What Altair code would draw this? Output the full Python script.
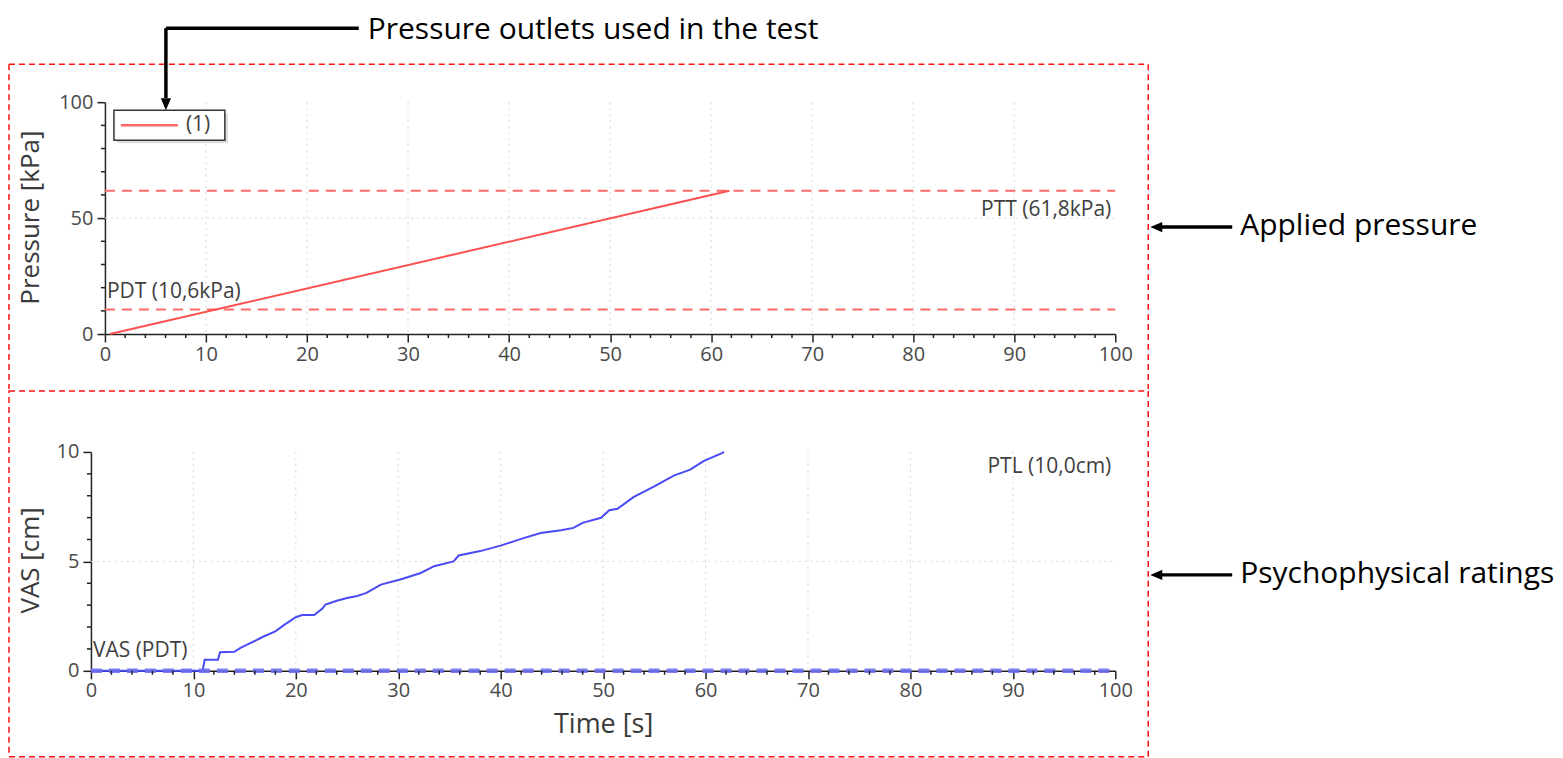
import altair as alt
import pandas as pd

# ---------------- data ----------------
press_t = [0.5, 61.8]
press_v = [0.0, 61.8]
series_names = ["(1)"]
pdt_kpa = 10.6
ptt_kpa = 61.8
pdt_label = "PDT (10,6kPa)"
ptt_label = "PTT (61,8kPa)"

vas_t = [0, 10.9, 11.1, 12.4, 12.6, 14.0, 14.6, 15.5, 16.9, 18.0, 18.9, 20.0, 20.6,
         21.8, 22.6, 22.9, 24.0, 25.0, 26.0, 26.9, 28.3, 30.2, 32.2, 33.5, 35.4, 35.9,
         38.0, 40.0, 42.0, 43.9, 45.9, 47.1, 48.0, 49.8, 50.6, 51.4, 53.0, 55.0, 56.9,
         58.5, 59.8, 61.6, 61.8]
vas_v = [0, 0, 0.5, 0.5, 0.85, 0.87, 1.05, 1.25, 1.58, 1.8, 2.11, 2.45, 2.55,
         2.55, 2.85, 3.03, 3.2, 3.33, 3.42, 3.56, 3.94, 4.17, 4.47, 4.78, 5.0, 5.27,
         5.47, 5.72, 6.03, 6.30, 6.42, 6.53, 6.76, 6.99, 7.34, 7.40, 7.95, 8.43, 8.92,
         9.19, 9.58, 9.95, 10.0]
vas_pdt = 0.0
ptl_cm = 10.0
vas_pdt_label = "VAS (PDT)"
ptl_label = "PTL (10,0cm)"

x_major = [0, 10, 20, 30, 40, 50, 60, 70, 80, 90, 100]
x_minor = [v for v in range(2, 100, 2) if v % 10 != 0]
x_grid = [10, 20, 30, 40, 50, 60, 70, 80, 90]
top_y_major = [0, 50, 100]
top_y_minor = [10, 20, 30, 40, 60, 70, 80, 90]
top_y_grid = [50]
bot_y_major = [0, 5, 10]
bot_y_minor = [1, 2, 3, 4, 6, 7, 8, 9]
bot_y_grid = [5]

note_outlets = "Pressure outlets used in the test"
note_applied = "Applied pressure"
note_psycho = "Psychophysical ratings"

# ---------------- styles ----------------
RED = "#ff5050"
RED_D = "#ff6a6a"
BLUE = "#4a4af6"
BLUE_D = "#6e6ef2"
BOX = "#ff1010"
TXT = "#404040"
FONT = "Open Sans"
AFONT = "Open Sans"

W = 1025          # both panels share the same group width
OX = 14           # top panel plot starts 14 px right of the bottom one
TH, BH = 232, 219

one = pd.DataFrame({"a": [0]})


def make_axis_x(title=None, **kw):
    args = dict(values=x_major, format="d", labelFontSize=20, labelFont=FONT,
                labelColor="#4a4a4a", tickSize=8, tickWidth=1.5, tickColor="#222",
                domainColor="#222", domainWidth=1.5, grid=False, labelFlush=False,
                labelOverlap=False, labelPadding=2, zindex=0)
    if title:
        args.update(title=title, titleFont=FONT, titleFontSize=27, titleColor="#3a3a3a",
                    titleFontWeight="normal")
    else:
        args.update(title="")
    args.update(kw)
    return alt.Axis(**args)


def make_axis_y(values, title, **kw):
    args = dict(values=values, format="d", labelFontSize=20, labelFont=FONT,
                labelColor="#4a4a4a", tickSize=8, tickWidth=1.5, tickColor="#222",
                domainColor="#222", domainWidth=1.5, grid=False, labelFlush=False,
                labelOverlap=False, labelPadding=4, title=title, titleFont=FONT,
                titleFontSize=26, titleColor="#3a3a3a", titleFontWeight="normal",
                titleBaseline="middle", titleAlign="center", titleAngle=270, zindex=0)
    args.update(kw)
    return alt.Axis(**args)


def hline(x1, x2, y, color="black", width=3.5, dash=None):
    kw = dict(color=color, strokeWidth=width)
    if dash:
        kw["strokeDash"] = dash
    return alt.Chart(one).mark_rule(**kw).encode(
        x=alt.value(x1), x2=alt.value(x2), y=alt.value(y))


def vline(x, y1, y2, color="black", width=3.5, dash=None):
    kw = dict(color=color, strokeWidth=width)
    if dash:
        kw["strokeDash"] = dash
    return alt.Chart(one).mark_rule(**kw).encode(
        x=alt.value(x), y=alt.value(y1), y2=alt.value(y2))


def head(x, y, shape):
    return alt.Chart(one).mark_point(shape=shape, filled=True, fill="black",
                                     opacity=1, size=144, strokeWidth=0).encode(
        x=alt.value(x), y=alt.value(y))


def note(x, y, text):
    return alt.Chart(pd.DataFrame({"t": [text]})).mark_text(
        font=AFONT, fontSize=30, color="black", align="left", baseline="middle"
    ).encode(x=alt.value(x), y=alt.value(y), text="t:N")


ARROW_DOWN = "M-0.85,-1L0.85,-1L0,1Z"
ARROW_LEFT = "M1,-0.85L1,0.85L-1,0Z"

# ---------------- top panel ----------------
xs_top = alt.Scale(domain=[0, 100], range=[OX, W], nice=False)
ys_top = alt.Scale(domain=[0, 100], nice=False)
ax_top_x = make_axis_x()
ax_top_y = make_axis_y(top_y_major, "Pressure [kPa]", titleX=-74, titleY=115, offset=-OX)

X_T = alt.X("t:Q", scale=xs_top, axis=ax_top_x)
Y_T = alt.Y("v:Q", scale=ys_top, axis=ax_top_y)

top_grid_v = alt.Chart(pd.DataFrame({"t": x_grid})).mark_rule(
    color="#d8d8d8", strokeDash=[2, 4], strokeWidth=1).encode(
    x=X_T, y=alt.value(0), y2=alt.value(TH))
top_grid_h = alt.Chart(pd.DataFrame({"v": top_y_grid})).mark_rule(
    color="#d8d8d8", strokeDash=[2, 4], strokeWidth=1).encode(
    y=Y_T, x=alt.value(OX), x2=alt.value(W))

thr = pd.DataFrame({"v": [pdt_kpa, ptt_kpa]})
top_thr = alt.Chart(thr).mark_rule(color=RED_D, strokeDash=[10, 7], strokeWidth=2).encode(
    y=Y_T, x=alt.value(OX), x2=alt.value(W))

press_df = pd.DataFrame({"t": press_t, "v": press_v})
top_line = alt.Chart(press_df).mark_line(color=RED, strokeWidth=2).encode(x=X_T, y=Y_T)

top_pdt_txt = alt.Chart(pd.DataFrame({"v": [pdt_kpa], "l": [pdt_label]})).mark_text(
    font=FONT, fontSize=21, color=TXT, align="left", baseline="middle", dy=-17).encode(
    x=alt.value(OX + 2), y=Y_T, text="l:N")
top_ptt_txt = alt.Chart(pd.DataFrame({"v": [ptt_kpa], "l": [ptt_label]})).mark_text(
    font=FONT, fontSize=21, color=TXT, align="right", baseline="middle", dy=19).encode(
    x=alt.value(W - 4), y=Y_T, text="l:N")

top_xminor = alt.Chart(pd.DataFrame({"t": x_minor})).mark_rule(
    color="#222", strokeWidth=1.5).encode(x=X_T, y=alt.value(TH), y2=alt.value(TH + 4))
top_yminor = alt.Chart(pd.DataFrame({"v": top_y_minor})).mark_rule(
    color="#222", strokeWidth=1.5).encode(y=Y_T, x=alt.value(OX - 4), x2=alt.value(OX))

# legend box (drawn as marks)
leg_shadow = alt.Chart(one).mark_rect(fill="#d0d0d0", opacity=0.7).encode(
    x=alt.value(26), x2=alt.value(137), y=alt.value(11), y2=alt.value(41))
leg_box = alt.Chart(one).mark_rect(fill="white", stroke="#333", strokeWidth=1.5).encode(
    x=alt.value(23), x2=alt.value(134), y=alt.value(8), y2=alt.value(38))
leg_sym = hline(30, 87, 23, color="#ff6666", width=2.5)
leg_txt = alt.Chart(pd.DataFrame({"l": series_names})).mark_text(
    font=FONT, fontSize=21, color=TXT, align="left", baseline="middle").encode(
    x=alt.value(95), y=alt.value(23), text="l:N")

# frame + arrows for top panel
B_L, B_R = -82, 1058
T_T, T_B = -38, 287
top_box = [hline(B_L, B_R, T_T, color=BOX, width=1.5, dash=[6, 4]),
           vline(B_L, T_T, T_B, color=BOX, width=1.5, dash=[6, 4]),
           vline(B_R, T_T, T_B, color=BOX, width=1.5, dash=[6, 4])]
top_anchor = hline(0, 1, -93, color="white", width=1)
top_arrows = [hline(75, 268, -74), vline(75, -74, -4), head(75, 2, ARROW_DOWN),
              note(277, -72, note_outlets),
              hline(1070, 1142, 125), head(1066, 125, ARROW_LEFT),
              note(1150, 124, note_applied)]

top = alt.layer(top_grid_v, top_grid_h, top_thr, top_line, top_pdt_txt, top_ptt_txt,
                top_xminor, top_yminor, leg_shadow, leg_box, leg_sym, leg_txt,
                top_anchor, *top_box, *top_arrows).properties(width=W, height=TH)

# ---------------- bottom panel ----------------
xs_bot = alt.Scale(domain=[0, 100], nice=False)
ys_bot = alt.Scale(domain=[0, 10], nice=False)
ax_bot_x = make_axis_x("Time [s]", titleX=W / 2, titleY=54, titleBaseline="middle")
ax_bot_y = make_axis_y(bot_y_major, "VAS [cm]", titleX=-60, titleY=108)

X_B = alt.X("t:Q", scale=xs_bot, axis=ax_bot_x)
Y_B = alt.Y("v:Q", scale=ys_bot, axis=ax_bot_y)

bot_grid_v = alt.Chart(pd.DataFrame({"t": x_grid})).mark_rule(
    color="#d8d8d8", strokeDash=[2, 4], strokeWidth=1).encode(
    x=X_B, y=alt.value(0), y2=alt.value(BH))
bot_grid_h = alt.Chart(pd.DataFrame({"v": bot_y_grid})).mark_rule(
    color="#d8d8d8", strokeDash=[2, 4], strokeWidth=1).encode(
    y=Y_B, x=alt.value(0), x2=alt.value(W))

vas_df = pd.DataFrame({"t": vas_t, "v": vas_v})
bot_line = alt.Chart(vas_df).mark_line(color=BLUE, strokeWidth=2).encode(x=X_B, y=Y_B)

bot_thr = alt.Chart(pd.DataFrame({"v": [vas_pdt]})).mark_rule(
    color=BLUE_D, strokeDash=[11, 7], strokeWidth=4.5, opacity=0.9).encode(
    y=Y_B, x=alt.value(0), x2=alt.value(W))

bot_pdt_txt = alt.Chart(pd.DataFrame({"v": [vas_pdt], "l": [vas_pdt_label]})).mark_text(
    font=FONT, fontSize=21, color=TXT, align="left", baseline="middle", dy=-20).encode(
    x=alt.value(2), y=Y_B, text="l:N")
bot_ptl_txt = alt.Chart(pd.DataFrame({"v": [ptl_cm], "l": [ptl_label]})).mark_text(
    font=FONT, fontSize=21, color=TXT, align="right", baseline="middle", dy=15).encode(
    x=alt.value(W - 4), y=Y_B, text="l:N")

bot_xminor = alt.Chart(pd.DataFrame({"t": x_minor})).mark_rule(
    color="#222", strokeWidth=1.5).encode(x=X_B, y=alt.value(BH), y2=alt.value(BH + 4))
bot_yminor = alt.Chart(pd.DataFrame({"v": bot_y_minor})).mark_rule(
    color="#222", strokeWidth=1.5).encode(y=Y_B, x=alt.value(-4), x2=alt.value(0))

bot_box = alt.Chart(one).mark_rect(filled=False, stroke=BOX, strokeWidth=1.5,
                                   strokeDash=[6, 4]).encode(
    x=alt.value(B_L), x2=alt.value(B_R), y=alt.value(-61), y2=alt.value(305))
bot_arrows = [hline(1070, 1142, 123), head(1066, 123, ARROW_LEFT),
              note(1150, 122, note_psycho)]

bottom = alt.layer(bot_grid_v, bot_grid_h, bot_line, bot_thr, bot_pdt_txt, bot_ptl_txt,
                   bot_xminor, bot_yminor, bot_box, *bot_arrows).properties(
    width=W, height=BH)

chart = alt.vconcat(top, bottom, spacing=0).properties(
    padding=0, background="white").configure_view(stroke=None)

chart.save("out.html", embed_options={"renderer": "svg", "actions": False})
